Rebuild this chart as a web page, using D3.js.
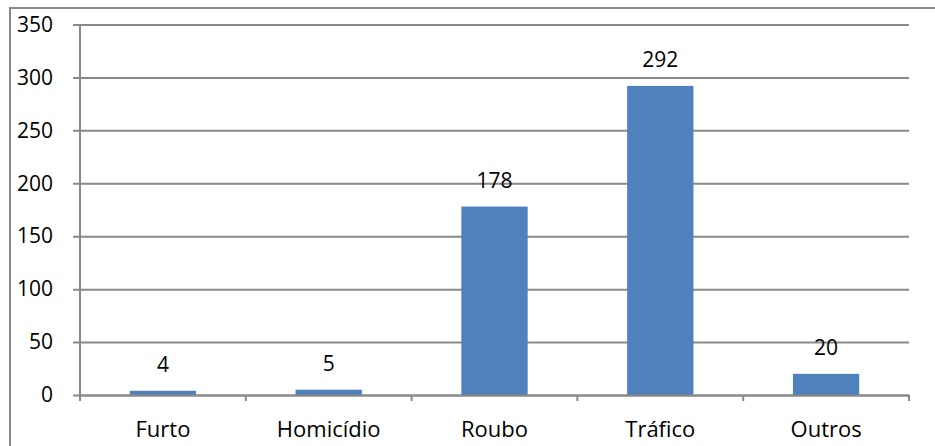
<!DOCTYPE html>
<html>
<head>
<meta charset="utf-8">
<script src="https://cdn.jsdelivr.net/npm/d3@7"></script>
<style>
  body { margin: 0; background: #fff; }
  svg { display: block; font-family: "Open Sans", sans-serif; }
  .tick text { fill: #000; }
</style>
</head>
<body>
<svg width="935" height="446"></svg>
<script>
var categories = ["Furto", "Homicídio", "Roubo", "Tráfico", "Outros"];
var values = [4, 5, 178, 292, 20];
var yTicks = [0, 50, 100, 150, 200, 250, 300, 350];

var svg = d3.select("svg"),
  margin = {top: 24.5, right: 26, bottom: 51, left: 80},
  width = +svg.attr("width") - margin.left - margin.right,
  height = +svg.attr("height") - margin.top - margin.bottom;

// chart frame, clipped by the picture on the right and bottom
svg.append("rect")
  .attr("x", 10).attr("y", 8)
  .attr("width", 960).attr("height", 480)
  .attr("fill", "none")
  .attr("stroke", "#898989")
  .attr("stroke-width", 2);

var g = svg.append("g").attr("transform", "translate(" + margin.left + "," + margin.top + ")");

var x = d3.scaleBand()
  .domain(categories)
  .range([0, width])
  .paddingInner(0.6)
  .paddingOuter(0.3);

var y = d3.scaleLinear()
  .domain([0, 350])
  .range([height, 0]);

// gridlines + y labels (lines start 7px left of the axis)
var yAxis = g.append("g")
  .attr("transform", "translate(-7,0)")
  .call(d3.axisLeft(y).tickValues(yTicks).tickSize(-(width + 7)).tickPadding(20))
  .call(function (s) { s.select(".domain").remove(); });
yAxis.selectAll("line").attr("stroke", "#898989").attr("stroke-width", 2);
yAxis.selectAll("text").attr("font-size", 21).attr("font-family", "Open Sans, sans-serif");

// vertical axis line
g.append("line")
  .attr("x1", 0).attr("x2", 0)
  .attr("y1", 0).attr("y2", height + 6)
  .attr("stroke", "#898989").attr("stroke-width", 2);

// category boundary ticks
var bounds = d3.range(categories.length + 1).map(function (i) { return i * x.step(); });
g.selectAll(".bound")
  .data(bounds)
  .enter().append("line")
  .attr("class", "bound")
  .attr("x1", function (d) { return d; }).attr("x2", function (d) { return d; })
  .attr("y1", height).attr("y2", height + 6)
  .attr("stroke", "#898989").attr("stroke-width", 2);

// bars
g.selectAll(".bar")
  .data(values)
  .enter().append("rect")
  .attr("class", "bar")
  .attr("x", function (d, i) { return x(categories[i]); })
  .attr("width", x.bandwidth())
  .attr("y", function (d) { return y(d); })
  .attr("height", function (d) { return height - y(d); })
  .attr("fill", "#4F81BD");

// x axis line + labels
var xAxis = g.append("g")
  .attr("transform", "translate(0," + height + ")")
  .call(d3.axisBottom(x).tickSize(0).tickPadding(26));
xAxis.select(".domain").attr("stroke", "#898989").attr("stroke-width", 2);
xAxis.selectAll("text").attr("font-size", 22).attr("font-family", "Open Sans, sans-serif");

// value labels
g.selectAll(".val")
  .data(values)
  .enter().append("text")
  .attr("class", "val")
  .attr("x", function (d, i) { return x(categories[i]) + x.bandwidth() / 2; })
  .attr("y", function (d) { return y(d) - 19; })
  .attr("text-anchor", "middle")
  .attr("font-size", 21)
  .attr("fill", "#000")
  .text(function (d) { return d; });
</script>
</body>
</html>
